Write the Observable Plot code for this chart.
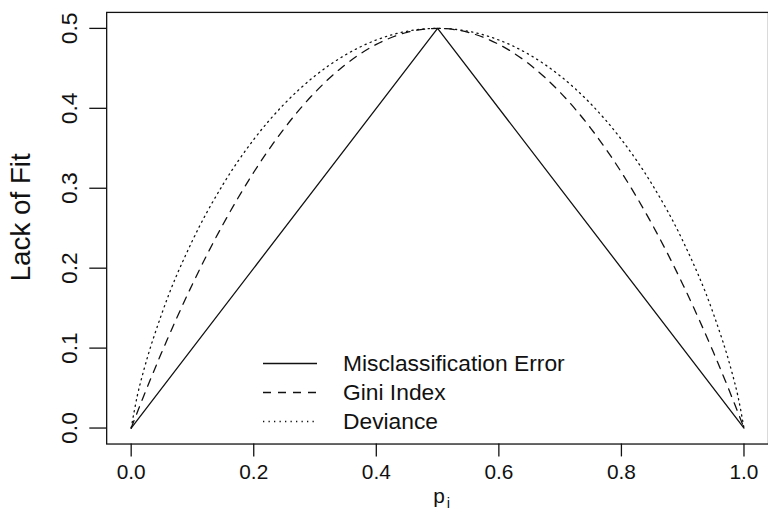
<!DOCTYPE html>
<html>
<head>
<meta charset="utf-8">
<script src="https://cdn.jsdelivr.net/npm/d3@7"></script>
<script src="https://cdn.jsdelivr.net/npm/@observablehq/plot@0.6"></script>
<style>
  html, body { margin: 0; padding: 0; background: #fff; }
  #wrap { position: relative; width: 768px; height: 519px; overflow: hidden; font-family: "Liberation Sans", Arial, sans-serif; }
  #legend { position: absolute; left: 263px; top: 349px; font-size: 22.8px; color: #111; }
  .row { display: flex; align-items: center; height: 29px; }
  .row svg { width: 54px; height: 29px; margin-right: 26px; flex: none; }
</style>
</head>
<body>
<div id="wrap"></div>
<script>
// ---- data ----
const misclassP = [0, 0.5, 1];
const misclassV = [0, 0.5, 0];

const curveP = [0, 0.01, 0.02, 0.05, 0.10, 0.15, 0.20, 0.25, 0.30, 0.35, 0.40, 0.45, 0.50,
                0.55, 0.60, 0.65, 0.70, 0.75, 0.80, 0.85, 0.90, 0.95, 0.98, 0.99, 1];
const giniV = [0, 0.0198, 0.0392, 0.095, 0.18, 0.255, 0.32, 0.375, 0.42, 0.455, 0.48, 0.495, 0.5,
               0.495, 0.48, 0.455, 0.42, 0.375, 0.32, 0.255, 0.18, 0.095, 0.0392, 0.0198, 0];
const devianceV = [0, 0.0404, 0.0707, 0.1432, 0.2345, 0.3049, 0.361, 0.4056, 0.4406, 0.467, 0.4855, 0.4964, 0.5,
                   0.4964, 0.4855, 0.467, 0.4406, 0.4056, 0.361, 0.3049, 0.2345, 0.1432, 0.0707, 0.0404, 0];

const xTicks = [0, 0.2, 0.4, 0.6, 0.8, 1.0];
const yTicks = [0, 0.1, 0.2, 0.3, 0.4, 0.5];
const seriesNames = ["Misclassification Error", "Gini Index", "Deviance"];
const yTitle = "Lack of Fit";
const xTitle = "p";
const xTitleSub = "i";

// ---- build tables ----
const misclass = misclassP.map((p, i) => ({p, v: misclassV[i]}));
const gini = curveP.map((p, i) => ({p, v: giniV[i]}));
const deviance = curveP.map((p, i) => ({p, v: devianceV[i]}));

const ink = "#111";
const dashes = [null, "8 7", "1.3 4.2"];
const fmt = d3.format(".1f");

const chart = Plot.plot({
  width: 774,
  height: 519,
  marginLeft: 107,
  marginRight: 0,
  marginTop: 12,
  marginBottom: 72,
  style: {fontFamily: '"Liberation Sans", Arial, sans-serif', color: ink, background: "#fff"},
  x: {domain: [-0.04, 1.04]},
  y: {domain: [-0.02, 0.52]},
  marks: [
    Plot.frame({stroke: ink, strokeWidth: 1.3}),
    Plot.axisX({ticks: xTicks, tickSize: 13, tickPadding: 7, tickFormat: fmt, fontSize: 21, label: null, strokeWidth: 1.3}),
    Plot.axisY({ticks: yTicks, tickSize: 17, tickFormat: () => "", label: null, strokeWidth: 1.3}),
    Plot.text(yTicks, {y: d => d, text: d => fmt(d), frameAnchor: "left", dx: -37, rotate: -90,
      textAnchor: "middle", lineAnchor: "middle", fontSize: 23, fill: ink}),
    Plot.text([yTitle], {frameAnchor: "left", dx: -86, dy: -11, rotate: -90, textAnchor: "middle",
      lineAnchor: "middle", fontSize: 28, fill: ink}),
    Plot.text([xTitle], {frameAnchor: "bottom", dx: 1.5, dy: 59, textAnchor: "middle", fontSize: 21, fill: ink}),
    Plot.text([xTitleSub], {frameAnchor: "bottom", dx: 11, dy: 64, textAnchor: "middle", fontSize: 15, fill: ink}),
    Plot.line(misclass, {x: "p", y: "v", stroke: ink, strokeWidth: 1.3}),
    Plot.line(gini, {x: "p", y: "v", stroke: ink, strokeWidth: 1.3, strokeDasharray: dashes[1], curve: "monotone-x"}),
    Plot.line(deviance, {x: "p", y: "v", stroke: ink, strokeWidth: 1.3, strokeDasharray: dashes[2], curve: "monotone-x"})
  ]
});

const wrap = document.getElementById("wrap");
wrap.appendChild(chart);

// legend
const legend = document.createElement("div");
legend.id = "legend";
seriesNames.forEach((name, i) => {
  const row = document.createElement("div");
  row.className = "row";
  const svg = d3.create("svg").attr("width", 54).attr("height", 29);
  svg.append("line").attr("x1", 0).attr("x2", 54).attr("y1", 14.5).attr("y2", 14.5)
    .attr("stroke", ink).attr("stroke-width", 1.3)
    .attr("stroke-dasharray", dashes[i]);
  row.appendChild(svg.node());
  const span = document.createElement("span");
  span.textContent = name;
  row.appendChild(span);
  legend.appendChild(row);
});
wrap.appendChild(legend);
</script>
</body>
</html>
